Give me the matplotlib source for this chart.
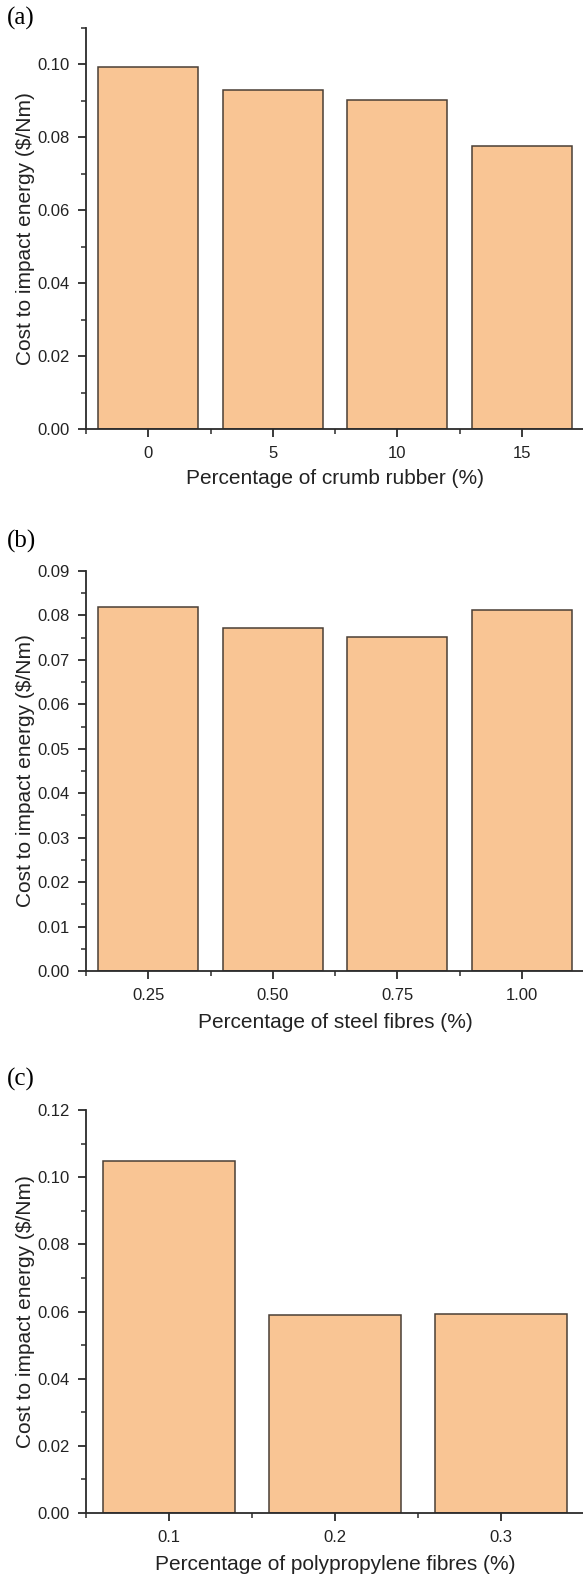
import matplotlib
matplotlib.use("Agg")
import matplotlib.pyplot as plt
from matplotlib.ticker import MultipleLocator, FormatStrFormatter

# panel (a) crumb rubber
rubber_labels = ["0", "5", "10", "15"]
rubber_cost = [0.0993, 0.0929, 0.0902, 0.0776]

# panel (b) steel fibres
steel_labels = ["0.25", "0.50", "0.75", "1.00"]
steel_cost = [0.0818, 0.0771, 0.0751, 0.0812]

# panel (c) polypropylene fibres
pp_labels = ["0.1", "0.2", "0.3"]
pp_cost = [0.1048, 0.0589, 0.0593]

bar_color = "#F9C594"
edge_color = "#4a3f36"
axis_color = "#2b2b2b"

plt.rcParams["font.family"] = ["Liberation Sans", "DejaVu Sans"]

fig = plt.figure(figsize=(5.83, 15.77), dpi=100)

W, H = 583.0, 1577.0
left = 86 / W
width = (584 - 86) / W


def make_panel(top_px, bottom_px, labels, values, ymax, major, minor, xlabel, tag, tag_y, xlab_y):
    ax = fig.add_axes([left, 1 - bottom_px / H, width, (bottom_px - top_px) / H])
    x = list(range(len(labels)))
    ax.bar(x, values, width=0.8, color=bar_color, edgecolor=edge_color, linewidth=1.1)
    ax.set_xlim(-0.5, len(labels) - 0.5)
    ax.set_ylim(0, ymax)
    ax.set_xticks(x)
    ax.set_xticklabels(labels)
    ax.xaxis.set_minor_locator(MultipleLocator(0.5))
    ax.yaxis.set_major_locator(MultipleLocator(major))
    ax.yaxis.set_minor_locator(MultipleLocator(minor))
    ax.yaxis.set_major_formatter(FormatStrFormatter("%.2f"))
    for s in ["top", "right"]:
        ax.spines[s].set_visible(False)
    for s in ["left", "bottom"]:
        ax.spines[s].set_color(axis_color)
        ax.spines[s].set_linewidth(1.3)
    ax.tick_params(which="major", direction="out", length=6, width=1.3,
                   color=axis_color, labelsize=12, labelcolor="#222222", pad=6)
    ax.tick_params(which="minor", direction="out", length=3.5, width=1.1, color=axis_color)
    ax.set_xlabel(xlabel, fontsize=15, color="#222222")
    ax.set_ylabel("Cost to impact energy (\\$/Nm)", fontsize=15, color="#222222")
    h = bottom_px - top_px
    ax.xaxis.set_label_coords(0.5, -(xlab_y - bottom_px) / h)
    ax.xaxis.label.set_va("center")
    ax.yaxis.set_label_coords((26 - 86) / (584 - 86), 0.5)
    ax.yaxis.label.set_va("center")
    fig.text(7 / W, 1 - tag_y / H, tag, fontsize=18, family="Liberation Serif",
             va="center", ha="left")
    return ax


make_panel(28, 429, rubber_labels, rubber_cost, 0.11, 0.02, 0.01,
           "Percentage of crumb rubber (%)", "(a)", 18, 478)
make_panel(571, 971, steel_labels, steel_cost, 0.09, 0.01, 0.005,
           "Percentage of steel fibres (%)", "(b)", 541, 1022)
make_panel(1110, 1513, pp_labels, pp_cost, 0.12, 0.02, 0.01,
           "Percentage of polypropylene fibres (%)", "(c)", 1079, 1565)

fig.savefig("out.png", dpi=100)
